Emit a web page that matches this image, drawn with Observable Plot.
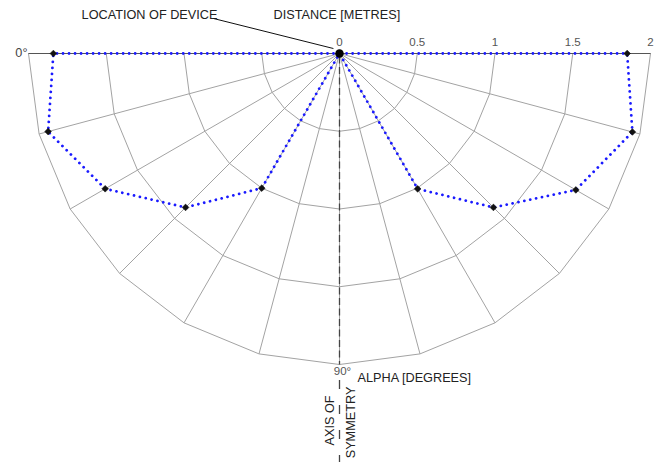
<!DOCTYPE html>
<html>
<head>
<meta charset="utf-8">
<script src="https://cdn.jsdelivr.net/npm/d3@7"></script>
<script src="https://cdn.jsdelivr.net/npm/@observablehq/plot@0.6"></script>
<style>
  html, body { margin: 0; padding: 0; background: #fff; }
  #chart svg { display: block; }
</style>
</head>
<body>
<div id="chart"></div>
<script>
// ---- data ----
const angles = [0, 15, 30, 45, 60, 75, 90];            // alpha [degrees]
const leftDistance  = [1.84, 1.94, 1.74, 1.40, 1.00, 0, 0];   // metres
const rightDistance = [1.85, 1.95, 1.755, 1.40, 1.005, 0, 0]; // metres
const rings = [0.5, 1, 1.5, 2];
const tickValues = [0, 0.5, 1, 1.5, 2];
const tickLabels = ["0", "0.5", "1", "1.5", "2"];
const maxR = 2;

// ---- polar helpers (side: -1 left, +1 right; alpha measured from horizontal, downwards) ----
const rad = a => a * Math.PI / 180;
const px = (r, a, side) => side * r * Math.cos(rad(a));
const py = (r, a) => r * Math.sin(rad(a));

const leftPts = angles.map((a, i) => ({a, r: leftDistance[i], side: -1}));
const rightPts = angles.map((a, i) => ({a, r: rightDistance[i], side: 1}));
const center = {a: 0, r: 0, side: 1};
const path = [center, ...leftPts, ...rightPts.slice().reverse(), center];
const markers = [...leftPts, ...rightPts].filter(d => d.r > 0);

// ring polylines through every spoke angle, left 0° -> 90° -> right 0°
const ringPts = rings.flatMap(r => [
  ...angles.map(a => ({r, a, side: -1})),
  ...angles.slice().reverse().map(a => ({r, a, side: 1}))
]);
const spokes = angles.filter(a => a > 0 && a < 90)
  .flatMap(a => [{a, side: -1}, {a, side: 1}]);

const ink = "#222";
const grid = "#a3a3a3";
const fs = 12.7;

const chart = Plot.plot({
  width: 659,
  height: 462,
  x: {domain: [-2, 2], range: [28, 650]},
  y: {domain: [0, 2], range: [53, 364]},
  axis: null,
  style: {fontFamily: "Arial, 'Liberation Sans', sans-serif", background: "#fff"},
  marks: [
    // rings
    Plot.line(ringPts, {x: d => px(d.r, d.a, d.side), y: d => py(d.r, d.a), z: d => d.r, stroke: grid, strokeWidth: 1}),
    // spokes
    Plot.link(spokes, {x1: 0, y1: 0, x2: d => px(maxR, d.a, d.side), y2: d => py(maxR, d.a), stroke: grid, strokeWidth: 1}),
    // 0° axis
    Plot.link([0], {x1: -maxR, y1: 0, x2: maxR, y2: 0, stroke: "#555", strokeWidth: 1}),
    // axis of symmetry
    Plot.link([0], {x1: 0, y1: 0, x2: 0, y2: maxR, stroke: grid, strokeWidth: 1}),
    Plot.link([0], {x1: 0, y1: 0.02, x2: 0, y2: maxR, stroke: "#444", strokeWidth: 1.3, strokeDasharray: "7,3.5"}),
    Plot.link([0], {x1: 0, y1: 2.1, x2: 0, y2: 2.63, stroke: "#444", strokeWidth: 1.3, strokeDasharray: "9,16"}),
    // pattern line
    Plot.line(path, {x: d => px(d.r, d.a, d.side), y: d => py(d.r, d.a), stroke: "#1a1aff", strokeWidth: 2.8, strokeLinecap: "round", strokeDasharray: "0.01,6"}),
    Plot.dot(markers, {x: d => px(d.r, d.a, d.side), y: d => py(d.r, d.a), symbol: "diamond2", r: 3, fill: "#111", stroke: "#111", strokeWidth: 0.6}),
    Plot.dot([center], {x: 0, y: 0, r: 4.2, fill: "#000"}),
    // distance tick labels
    Plot.text(tickValues, {x: d => d, y: 0, text: (d, i) => tickLabels[i], dy: -11, fontSize: 11.5, fill: "#555"}),
    // angle labels
    Plot.text(["0°"], {x: -maxR, y: 0, text: d => d, textAnchor: "end", dx: -1, dy: -1, fontSize: fs, fill: "#444"}),
    Plot.text(["90°"], {x: 0, y: maxR, text: d => d, dx: 3, dy: 7, fontSize: 11.5, fill: "#555"}),
    Plot.text(["ALPHA [DEGREES]"], {x: 0.116, y: 2.084, text: d => d, textAnchor: "start", fontSize: fs, fill: ink}),
    // titles
    Plot.text(["DISTANCE [METRES]"], {x: -0.424, y: -0.251, text: d => d, textAnchor: "start", fontSize: fs, fill: ink}),
    Plot.text(["LOCATION OF DEVICE"], {x: -0.785, y: -0.251, text: d => d, textAnchor: "end", fontSize: fs, fill: ink}),
    Plot.link([0], {x1: -0.81, y1: -0.225, x2: -0.039, y2: -0.032, stroke: "#111", strokeWidth: 1}),
    // axis of symmetry label
    Plot.text(["AXIS OF"], {x: -0.064, y: 2.36, text: d => d, rotate: -90, fontSize: fs, fill: ink}),
    Plot.text(["SYMMETRY"], {x: 0.071, y: 2.373, text: d => d, rotate: -90, fontSize: fs, fill: ink})
  ]
});
document.getElementById("chart").appendChild(chart);
</script>
</body>
</html>
